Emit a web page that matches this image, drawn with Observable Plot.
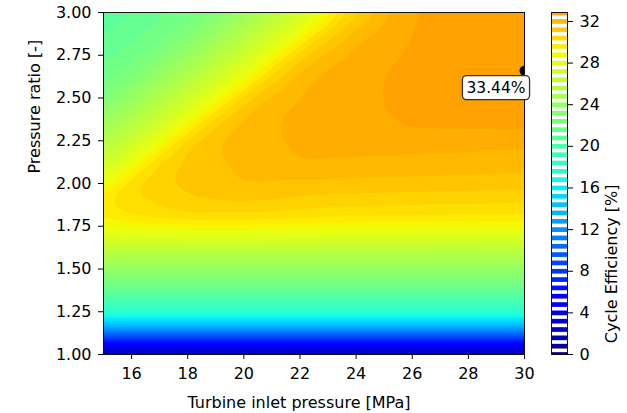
<!DOCTYPE html>
<html><head><meta charset="utf-8">
<script src="https://cdn.jsdelivr.net/npm/d3@7"></script>
<script src="https://cdn.jsdelivr.net/npm/@observablehq/plot@0.6"></script>
<style>
body{margin:0;background:#fff;}
#wrap{position:relative;width:627px;height:413px;overflow:hidden;font-family:"DejaVu Sans";}
#main{position:absolute;left:0;top:0;}
#cb{position:absolute;left:540px;top:0;}
</style></head>
<body><div id="wrap"><div id="main"></div><div id="cb"></div></div>
<script>
// ---- data ----
const pressures = [15,16,17,18,19,20,21,22,23,24,25,26,27,28,29,30];           // MPa
const ratios = [1.0,1.1,1.2,1.3,1.4,1.5,1.6,1.7,1.8,1.9,2.0,2.1,2.2,2.3,2.4,2.5,2.6,2.7,2.8,2.9,3.0];
// cycle efficiency [%], one row per pressure ratio, one column per pressure
const efficiency = [
  [0,0,0,0,0,0,0,0,0,0,0,0,0,0,0,0],
  [8.7,8.7,8.7,8.7,8.7,8.7,8.7,8.7,8.7,8.7,8.7,8.7,8.7,8.7,8.7,8.7],
  [16.4,16.4,16.4,16.4,16.4,16.4,16.4,16.4,16.4,16.4,16.4,16.4,16.4,16.4,16.4,16.4],
  [19.4,19.4,19.4,19.4,19.4,19.4,19.4,19.4,19.4,19.4,19.4,19.4,19.4,19.4,19.4,19.4],
  [21.8,21.8,21.8,21.8,21.8,21.8,21.8,21.8,21.8,21.8,21.8,21.8,21.8,21.8,21.8,21.8],
  [23.8,23.8,23.8,23.8,23.8,23.8,23.8,23.8,23.8,23.8,23.8,23.8,23.8,23.8,23.8,23.8],
  [25.9,25.9,25.9,25.9,25.9,25.9,25.9,25.9,25.8,25.8,25.8,25.8,25.8,25.8,25.8,25.8],
  [28.1,28.1,28.1,28.1,28.1,28.1,28.1,28.1,28.0,28.0,28.0,28.0,27.9,27.9,27.9,27.9],
  [29.5,30.05,30.25,30.45,30.45,30.45,30.35,30.2,30.1,30.05,30.0,30.0,29.98,29.95,29.94,29.93],
  [29.95,30.4,30.75,31.15,31.25,31.25,31.2,31.05,30.95,30.9,30.85,30.82,30.78,30.75,30.72,30.69],
  [28.3,30.65,31.0,31.35,31.55,31.82,31.8,31.7,31.65,31.6,31.6,31.58,31.56,31.55,31.5,31.47],
  [27.05,28.7,30.96,31.45,31.68,31.95,32.1,32.35,32.3,32.25,32.2,32.15,32.1,32.05,32.02,31.99],
  [25.95,27.4,29.1,31.24,31.78,32.05,32.28,32.5,32.52,32.53,32.53,32.52,32.5,32.45,32.4,32.36],
  [24.75,26.2,27.7,30.24,31.52,32.1,32.37,32.53,32.65,32.78,32.88,33.01,33.01,33.01,33.01,33.01],
  [23.6,25.1,26.5,28.1,30.52,31.8,32.33,32.55,32.7,32.87,32.98,33.08,33.12,33.15,33.18,33.2],
  [22.65,23.9,25.4,26.9,28.5,30.8,32.08,32.45,32.65,32.85,33.02,33.13,33.21,33.26,33.3,33.32],
  [22.0,22.9,24.25,25.75,27.2,28.9,31.08,32.3,32.55,32.78,33.02,33.11,33.22,33.31,33.37,33.42],
  [21.55,22.15,23.2,24.6,26.05,27.55,29.3,31.36,32.4,32.68,32.97,33.07,33.18,33.28,33.37,33.44],
  [21.2,21.65,22.3,23.45,24.9,26.35,27.9,30.36,31.64,32.55,32.88,33.06,33.12,33.22,33.32,33.4],
  [20.9,21.3,21.8,22.5,23.75,25.25,26.7,28.3,30.64,31.92,32.6,33.03,33.1,33.15,33.24,33.3],
  [20.6,21.0,21.35,21.9,22.8,24.1,25.6,27.0,28.65,30.92,32.2,32.98,33.08,33.12,33.16,33.2]
];
// the sharp diagonal ridge (regime change) and the values just below / above it
const ridgePressure = [15,15.5,16,16.5,17,17.5,18,18.5,19,19.5,20,20.5,21,21.5,22,22.5,23,23.5];
const ridgeRatio    = [1.93,1.994,2.058,2.122,2.186,2.25,2.314,2.378,2.442,2.506,2.57,2.634,2.698,2.762,2.826,2.89,2.954,3.018];
const ridgeBelow    = [29.95,30.05,30.1,30.1,30.1,30.1,30.1,30.1,30.1,30.1,30.1,30.1,30.1,30.1,30.1,30.1,30.1,30.1];
const ridgeAbove    = [29.3,29.3,29.3,29.3,29.3,29.3,29.3,29.3,29.3,29.3,29.3,29.3,29.3,29.3,29.3,29.3,29.3,29.3];
const peak = {pressure: 30, ratio: 2.66, value: 33.44};
const xTicks = [16,18,20,22,24,26,28,30];
const yTicks = [1.0,1.25,1.5,1.75,2.0,2.25,2.5,2.75,3.0];
const cbTicks = [0,4,8,12,16,20,24,28,32];
const cbMax = 32.86;

// ---- jet colormap ----
const VMAX = 45;
const jetT = [0,0.11,0.125,0.34,0.35,0.375,0.64,0.65,0.66,0.89,0.91,1];
const jetC = ["rgb(0,0,128)","rgb(0,0,255)","rgb(0,0,255)","rgb(0,219,255)","rgb(0,230,247)","rgb(21,255,226)",
              "rgb(239,255,8)","rgb(247,245,0)","rgb(255,236,0)","rgb(255,19,0)","rgb(232,0,0)","rgb(128,0,0)"];
const STEP = 0.6;
const levels = d3.range(0, 34, STEP);
const cbLevels = d3.range(0, 33, 0.8);

const points = [];
ratios.forEach((r, i) => pressures.forEach((p, j) => points.push({p, r, v: efficiency[i][j]})));
ridgePressure.forEach((p, k) => {
  points.push({p, r: ridgeRatio[k] - 0.008, v: ridgeBelow[k]});
  points.push({p, r: ridgeRatio[k] + 0.008, v: ridgeAbove[k]});
});

const font = {fontFamily: "DejaVu Sans", fontSize: "16px", color: "#000", background: "transparent", overflow: "visible"};

const main = Plot.plot({
  width: 627, height: 413,
  marginLeft: 103, marginRight: 103, marginTop: 12, marginBottom: 59,
  x: {domain: [15, 30]},
  y: {domain: [1, 3]},
  color: {type: "linear", domain: jetT.map(t => t * VMAX - STEP / 2), range: jetC, interpolate: "rgb", clamp: true},
  style: font,
  marks: [
    Plot.contour(points, {x: "p", y: "r", value: "v", fill: "value", stroke: "none",
      interpolate: "barycentric", blur: 3, thresholds: levels}),
    Plot.frame({stroke: "#111", strokeWidth: 1}),
    Plot.axisX(xTicks, {tickSize: 5, tickPadding: 8, label: null}),
    Plot.axisY(yTicks, {tickSize: 5, tickPadding: 7, tickFormat: d3.format(".2f"), label: null}),
    Plot.text(["Turbine inlet pressure [MPa]"], {text: d => d, frameAnchor: "bottom", lineAnchor: "middle", dx: -15, dy: 48}),
    Plot.text(["Pressure ratio [-]"], {text: d => d, frameAnchor: "left", lineAnchor: "middle", rotate: -90, dx: -69, dy: -10}),
    Plot.dot([peak], {x: "pressure", y: "ratio", r: 5, fill: "black", clip: true}),
    Plot.text([peak], {x: "pressure", y: "ratio", text: d => d.value.toFixed(2) + "%", dx: -28.5, dy: 17, fontSize: 15.5})
  ]
});
document.getElementById("main").appendChild(main);

// rounded box behind the peak label
const lbl = [...main.querySelectorAll("text")].find(e => e.textContent === "33.44%");
if (lbl) {
  const bb = lbl.getBBox();
  const rect = document.createElementNS("http://www.w3.org/2000/svg", "rect");
  rect.setAttribute("x", bb.x - 4);
  rect.setAttribute("y", bb.y - 3);
  rect.setAttribute("width", bb.width + 8);
  rect.setAttribute("height", bb.height + 6);
  rect.setAttribute("rx", 4);
  rect.setAttribute("fill", "white");
  rect.setAttribute("stroke", "#333");
  rect.setAttribute("stroke-width", 1.3);
  if (lbl.getAttribute("transform")) rect.setAttribute("transform", lbl.getAttribute("transform"));
  lbl.parentNode.insertBefore(rect, lbl);
}

const cb = Plot.plot({
  width: 87, height: 413,
  marginLeft: 11, marginRight: 60, marginTop: 12, marginBottom: 59,
  x: {domain: [0, 1], axis: null},
  y: {domain: [0, cbMax], axis: null},
  color: {type: "linear", domain: jetT.map(t => t * VMAX), range: jetC, interpolate: "rgb", clamp: true},
  style: font,
  marks: [
    Plot.ruleY(cbLevels, {y: d => d, stroke: d => d, strokeWidth: 4.7, clip: true}),
    Plot.frame({stroke: "#111", strokeWidth: 1}),
    Plot.axisY(cbTicks, {anchor: "right", tickSize: 5, tickPadding: 7, label: null}),
    Plot.text(["Cycle Efficiency [%]"], {text: d => d, frameAnchor: "right", rotate: -90, dx: 44.5, dy: 1})
  ]
});
document.getElementById("cb").appendChild(cb);
</script>
</body></html>
